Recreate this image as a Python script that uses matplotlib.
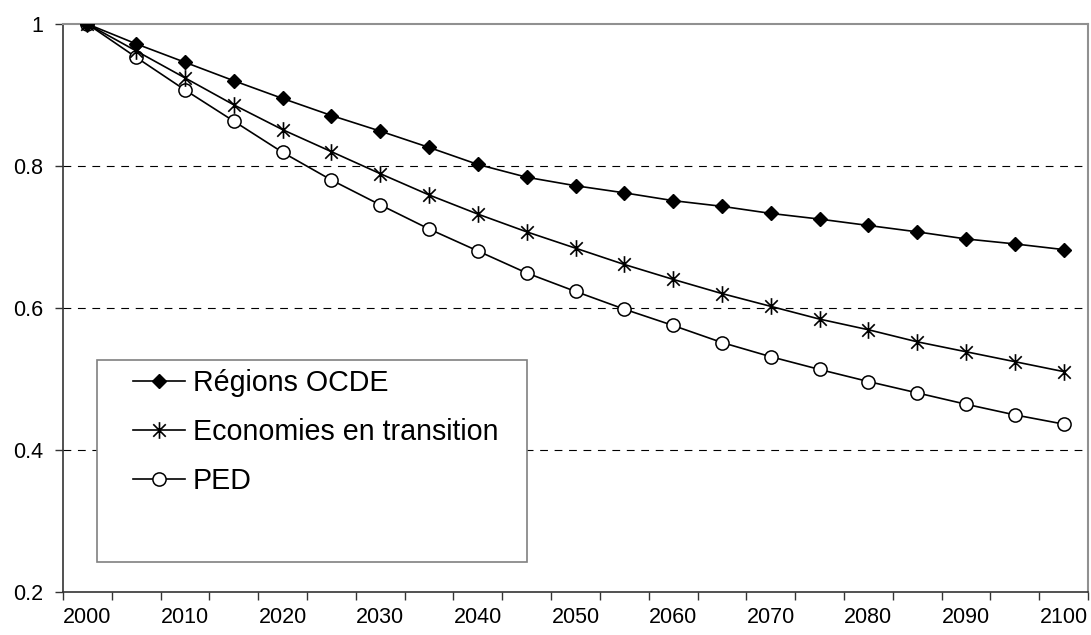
import matplotlib
matplotlib.use("Agg")
import matplotlib.pyplot as plt
from matplotlib.path import Path
from matplotlib.patches import Rectangle
import numpy as np

plt.rcParams['font.family'] = ['Liberation Sans', 'DejaVu Sans']

years = list(range(2000, 2101, 5))
tick_labels = [str(y) for y in range(2000, 2101, 10)]

ocde = [1.000, 0.972, 0.946, 0.920, 0.895, 0.871, 0.849, 0.826, 0.802, 0.784,
        0.772, 0.762, 0.751, 0.743, 0.733, 0.725, 0.716, 0.707, 0.697, 0.690, 0.682]
transition = [1.000, 0.962, 0.924, 0.886, 0.851, 0.820, 0.789, 0.759, 0.732, 0.707,
              0.684, 0.661, 0.640, 0.620, 0.602, 0.584, 0.569, 0.552, 0.538, 0.524, 0.510]
ped = [1.000, 0.953, 0.907, 0.863, 0.819, 0.780, 0.745, 0.711, 0.680, 0.649,
       0.623, 0.598, 0.575, 0.551, 0.531, 0.513, 0.496, 0.480, 0.464, 0.449, 0.436]

labels = ['Régions OCDE', 'Economies en transition', 'PED']

star = Path([(0, -1), (0, 1), (-0.75, -0.75), (0.75, 0.75), (-0.75, 0.75), (0.75, -0.75)],
            [Path.MOVETO, Path.LINETO, Path.MOVETO, Path.LINETO, Path.MOVETO, Path.LINETO])

fig = plt.figure(figsize=(10.91, 6.35), dpi=100)
ax = fig.add_axes([63/1091, 1 - 591.5/635, (1088-63)/1091, (591.5-24)/635])

x = np.arange(len(years))
lw = 1.2
ax.plot(x, ocde, color='black', lw=lw, marker='D', ms=7.2, mfc='black', mec='black',
        label=labels[0], zorder=7)
ax.plot(x, transition, color='black', lw=lw, marker=star, ms=12, mec='black', mew=1.2,
        label=labels[1], zorder=6)
ax.plot(x, ped, color='black', lw=lw, marker='o', ms=9.5, mfc='white', mec='black', mew=1.1,
        label=labels[2], zorder=5)

ax.set_xlim(-0.5, len(years) - 0.5)
ax.set_ylim(0.2, 1.0)

ax.set_xticks(x[::2])
ax.set_xticklabels(tick_labels, fontsize=15.5)
ax.set_xticks(np.arange(-0.5, len(years), 1.0), minor=True)
ax.tick_params(axis='x', which='major', length=0, pad=11)
ax.tick_params(axis='x', which='minor', length=6, width=1, direction='out', color='#333333')

ax.set_yticks([0.2, 0.4, 0.6, 0.8, 1.0])
ax.set_yticklabels(['0.2', '0.4', '0.6', '0.8', '1'], fontsize=15.5)
ax.tick_params(axis='y', length=6, width=1, direction='out', pad=8, color='#333333')

for gy in [0.4, 0.6, 0.8]:
    ln = ax.axhline(gy, color='black', lw=0.8, zorder=1)
    ln.set_dashes((7, 6))

for s in ['left', 'bottom']:
    ax.spines[s].set_color('#333333')
    ax.spines[s].set_linewidth(1.2)
for s in ['top', 'right']:
    ax.spines[s].set_color('#909090')
    ax.spines[s].set_linewidth(1.5)

rect = Rectangle((34/1025, (591.5-562)/567.5), (527-97)/1025, (562-360)/567.5,
                 transform=ax.transAxes, facecolor='white', edgecolor='#808080',
                 lw=1.2, zorder=3)
ax.add_patch(rect)

leg = ax.legend(loc='center left', bbox_to_anchor=((133-63)/1025, (591.5-432)/567.5),
                frameon=False, fontsize=20.6, borderpad=0, borderaxespad=0,
                handlelength=1.8, handletextpad=0.3, labelspacing=0.72)
leg.set_zorder(8)

fig.savefig('out.png', dpi=100)
